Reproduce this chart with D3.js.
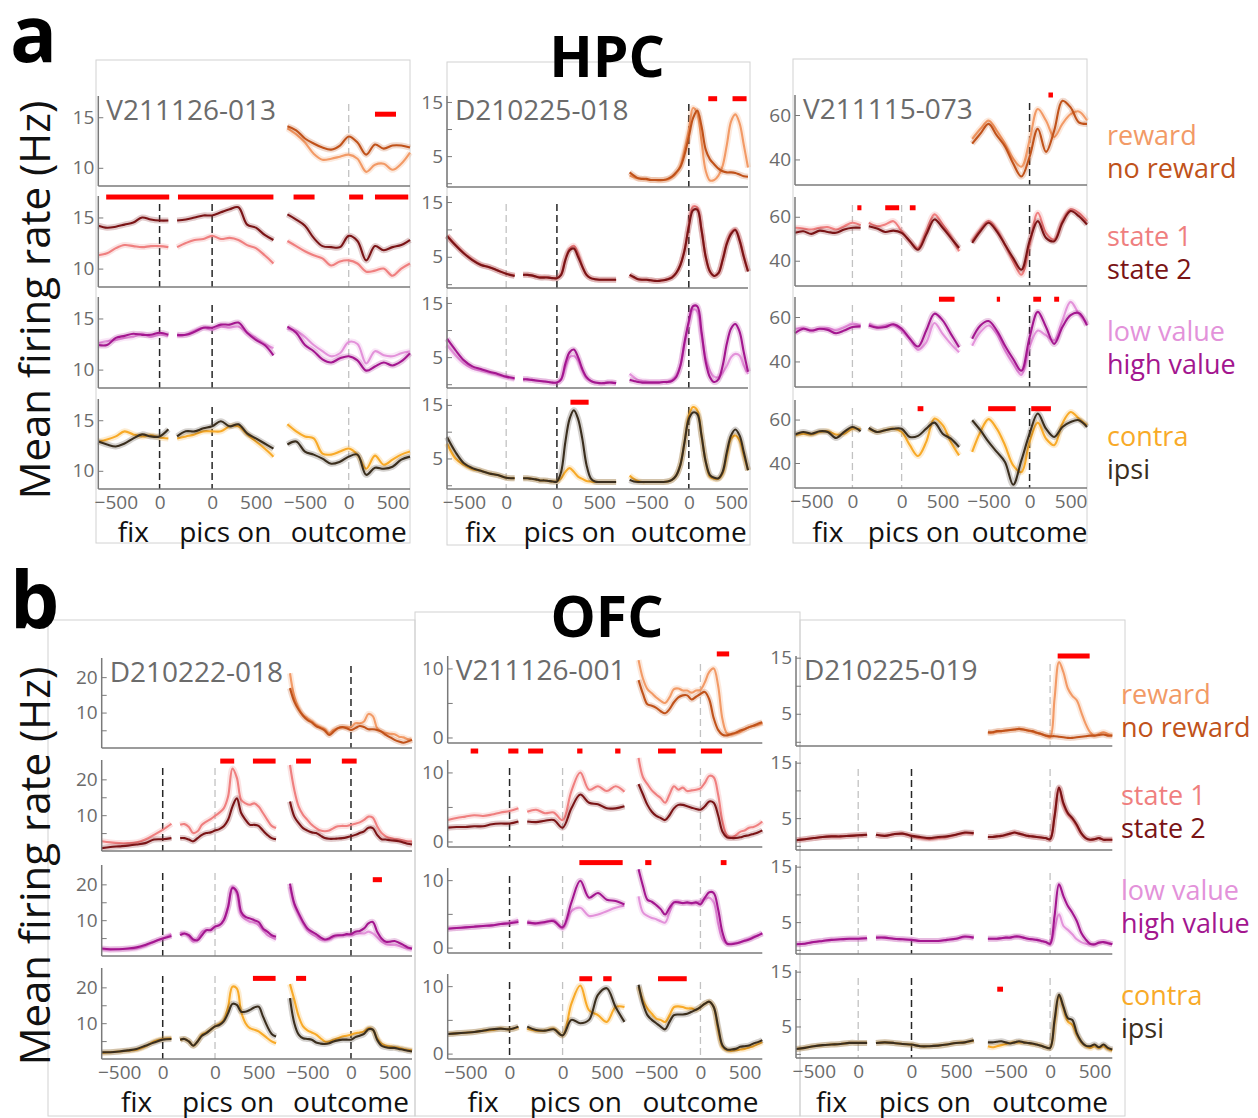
<!DOCTYPE html>
<html lang="en">
<head>
<meta charset="UTF-8">
<title>HPC / OFC example neurons</title>
<script src="https://d3js.org/d3.v7.min.js"></script>
<style>
  body { margin: 0; background: #fff; }
  text { font-family: "Open Sans", sans-serif; }
</style>
</head>
<body>
<svg id="fig" width="1258" height="1118"></svg>
<script>
// ---- epochs (ms) and how they are joined on one x axis
const epochs = ["fix", "pics", "out"];
const epochNames = ["fix", "pics on", "outcome"];
const epochSpan = {fix: [-700, 100], pics: [-400, 700], out: [-700, 700]};
const epochStart = {fix: 0, pics: 900, out: 2160};
const joinedLength = 3560;
const xTickVals = {fix: [-500, 0], pics: [0, 500], out: [-500, 0, 500]};

const condLabels = [["reward", "no reward"], ["state 1", "state 2"], ["low value", "high value"], ["contra", "ipsi"]];
const condColors = [["#f29a66", "#c0521a"], ["#ef7f7f", "#7a1416"], ["#e392da", "#a3168f"], ["#f8aa28", "#3a2e1e"]];

// ---- HPC V211126-013 (100 ms samples)
const h1_rew = [13.9,13.3,12.5,11.4,10.8,10.9,11.1,11.3,10.9,9.6,10.3,10.4,9.8,10.4,11.5];
const h1_norew = [14.1,13.7,12.9,12.4,12.0,11.8,12.2,13.1,12.5,11.3,12.3,11.9,12.2,12.2,12.0];
const h1_st1 = [[11.3,11.5,12.0,12.3,12.2,12.1,12.2,12.2,12.1],
  [12.1,12.5,12.8,12.9,13.2,12.9,13.0,12.8,12.3,12.0,11.3,10.5],
  [12.7,12.2,11.7,11.3,11.0,10.3,10.7,10.8,10.5,9.7,9.8,10.0,9.3,10.0,10.5]];
const h1_st2 = [[14.2,14.0,14.1,14.3,14.5,15.0,14.8,14.7,14.7],
  [14.7,14.8,15.0,15.2,15.2,15.5,15.8,16.0,14.3,14.0,13.3,12.8],
  [15.3,14.8,14.2,13.0,12.2,12.1,12.1,13.2,12.7,10.8,12.2,11.8,12.1,12.3,12.8]];
const h1_low = [[12.6,12.8,12.9,13.1,13.2,13.5,13.2,13.4,13.3],
  [13.3,13.4,13.8,14.1,13.9,14.2,14.1,14.2,13.6,13.1,12.5,12.1],
  [14.0,13.8,13.2,12.4,11.8,11.3,11.6,12.7,12.5,10.6,11.8,11.4,11.3,11.6,11.8]];
const h1_high = [[12.4,12.4,13.1,13.3,13.5,13.4,13.4,13.6,13.4],
  [13.4,13.4,13.7,14.1,14.1,14.4,14.4,14.6,13.6,12.9,12.4,11.4],
  [14.2,13.6,12.4,11.8,11.0,10.7,11.1,11.3,10.9,9.9,10.3,10.7,10.4,10.8,11.6]];
const h1_contra = [[12.9,13.1,13.4,13.9,13.6,13.4,13.5,13.3,13.2],
  [13.2,13.4,13.6,13.9,13.9,13.9,14.4,14.4,13.6,12.9,12.2,11.4],
  [14.6,13.9,13.4,13.2,11.7,11.6,11.9,12.2,11.6,10.2,11.5,10.6,11.1,11.6,11.9]];
const h1_ipsi = [[12.9,12.6,12.4,12.7,13.2,13.6,13.4,13.4,14.1],
  [13.4,13.9,13.9,14.2,14.4,14.9,14.4,14.6,13.7,13.2,12.7,12.2],
  [12.6,12.9,11.9,11.6,11.2,10.7,10.9,11.4,11.6,9.6,10.3,10.2,10.4,11.1,11.4]];
const h1_sig = [[0,"out",300,540,15.3],[1,"fix",-610,110,17.0],[1,"pics",-390,700,17.0],
  [1,"out",-630,-390,17.0],[1,"out",5,165,17.0],[1,"out",300,680,17.0]];
const h1_dark = [[0,0,0],[1,1,0],[1,1,0],[1,1,0]];

// ---- HPC D210225-018 (fix 100 ms, pics/outcome 50 ms)
const h2_rew = [1.4,1.1,0.9,0.8,0.7,0.6,0.6,0.5,0.6,0.7,1.1,1.8,3.2,6.2,9.8,13.9,12.9,7.7,2.3,0.5,0.6,1.4,3.2,7.1,11.4,12.7,11.1,7.1,2.9];
const h2_norew = [2.0,1.4,0.9,0.8,0.8,0.6,0.6,0.6,0.6,0.8,1.2,2.0,3.0,5.3,8.6,12.0,13.4,10.5,6.2,4.4,3.5,2.7,2.2,2.0,2.0,1.9,1.6,1.3,1.2];
const h2_st1 = [[8.9,7.2,5.7,4.5,3.6,3.1,2.5,1.9,1.6],
  [1.7,1.7,1.6,1.4,1.3,1.3,1.2,1.1,1.1,1.8,4.6,6.5,7.0,5.6,3.3,1.7,1.1,0.9,0.8,0.8,0.8,0.8,0.8],
  [1.7,1.2,0.9,0.8,0.8,0.7,0.6,0.6,0.7,0.9,1.3,2.0,3.5,6.3,10.8,14.2,14.0,10.0,5.0,2.3,1.5,2.0,4.5,7.6,9.4,10.0,8.2,5.1,2.4]];
const h2_st2 = [[8.8,7.1,5.6,4.4,3.5,3.1,2.5,1.9,1.5],
  [1.7,1.7,1.6,1.4,1.2,1.2,1.2,1.1,1.1,1.7,4.4,6.2,6.5,5.0,3.2,1.7,1.1,0.9,0.8,0.8,0.8,0.8,0.8],
  [1.7,1.3,0.9,0.8,0.8,0.7,0.6,0.6,0.7,0.9,1.2,2.0,3.5,6.2,10.5,13.5,13.6,9.9,5.0,2.3,1.5,2.0,4.4,7.4,9.2,9.9,8.0,5.0,2.3]];
const h2_low = [[7.2,5.3,3.8,2.9,2.5,2.1,1.7,1.3,0.9],
  [0.9,0.9,0.8,0.7,0.6,0.5,0.4,0.3,0.3,0.9,3.1,5.0,5.2,4.4,2.5,1.1,0.6,0.3,0.2,0.2,0.3,0.3,0.2],
  [1.9,1.3,0.8,0.6,0.5,0.4,0.4,0.4,0.4,0.5,0.8,1.6,3.4,7.5,11.3,13.8,13.4,9.1,4.7,2.5,1.4,1.3,2.1,3.4,5.0,5.6,5.3,3.4,1.9]];
const h2_high = [[8.4,6.3,4.4,3.3,2.8,2.3,1.9,1.4,1.1],
  [0.9,0.9,0.8,0.7,0.6,0.5,0.4,0.3,0.3,0.9,3.8,5.9,6.4,5.0,2.8,1.3,0.6,0.3,0.2,0.2,0.3,0.3,0.2],
  [0.8,0.6,0.4,0.3,0.3,0.3,0.3,0.3,0.4,0.4,0.6,1.3,3.4,7.8,11.6,14.4,14.4,9.7,4.1,1.3,0.4,0.9,3.4,7.5,10.3,11.1,9.7,5.9,2.3]];
const h2_contra = [[7.8,5.0,3.8,3.0,2.7,2.2,1.9,1.4,1.3],
  [1.3,1.3,1.2,1.1,0.9,0.9,0.8,0.7,0.7,1.3,2.5,3.2,2.5,1.6,1.2,0.8,0.7,0.6,0.6,0.6,0.6,0.6,0.6],
  [1.8,1.2,0.8,0.6,0.6,0.6,0.6,0.6,0.6,0.7,1.0,1.8,3.8,8.1,13.0,14.6,14.0,9.3,4.4,1.6,1.2,1.2,2.2,5.6,8.7,9.3,8.4,5.6,2.8]];
const h2_ipsi = [[9.0,6.2,4.1,3.2,2.7,2.2,1.9,1.4,1.3],
  [1.3,1.3,1.2,1.1,0.9,0.9,0.8,0.7,0.7,2.5,8.1,12.4,14.0,12.4,8.7,3.8,1.3,0.7,0.6,0.6,0.6,0.6,0.6],
  [1.0,0.7,0.6,0.6,0.6,0.6,0.6,0.6,0.6,0.7,1.0,1.8,3.8,8.1,12.4,13.6,13.3,9.3,4.4,1.9,1.4,1.3,2.5,6.2,9.3,10.4,9.3,6.2,2.8]];
const h2_sig = [[0,"out",230,335,15.6],[0,"out",517,683,15.6],[3,"pics",160,375,15.5]];
const h2_dark = [[0,0,1],[0,1,1],[0,1,1],[0,1,1]];

// ---- HPC V211115-073 (100 ms samples)
const h3_rew = [49.3,53.8,57.5,53.0,47.1,40.4,36.7,48.6,62.7,57.5,50.1,56.0,60.4,61.6,57.5];
const h3_norew = [47.1,51.6,56.0,50.8,45.9,38.2,32.3,41.2,53.8,43.4,53.0,66.4,63.4,56.7,56.0];
const h3_st1 = [[55.0,54.7,54.2,55.0,55.3,54.2,55.7,57.3,56.2],
  [57.3,55.7,56.5,58.0,53.4,48.9,45.8,53.4,61.1,56.5,51.1,44.3],
  [48.9,54.2,58.0,54.2,47.3,39.7,33.6,47.3,61.8,52.7,49.6,58.0,63.4,61.8,58.0]];
const h3_st2 = [[52.7,53.4,52.2,53.7,53.1,52.7,54.2,55.0,55.0],
  [55.7,54.7,53.1,53.7,52.7,48.9,45.0,51.9,58.8,55.0,50.4,45.8],
  [48.1,53.4,57.3,53.4,47.3,41.2,35.9,48.9,58.0,50.4,48.9,57.3,62.6,60.3,56.5]];
const h3_low = [[54.7,55.0,53.9,54.7,55.0,54.2,55.5,57.0,56.2],
  [57.0,55.5,56.2,56.2,53.9,50.2,45.2,48.6,57.3,52.4,47.9,44.1],
  [47.1,53.2,56.2,52.4,44.8,38.8,33.9,46.4,53.9,51.7,49.4,58.5,66.8,61.5,57.0]];
const h3_high = [[52.7,54.7,53.9,54.7,54.2,52.7,53.9,55.5,55.8],
  [56.2,55.2,55.5,56.7,54.7,50.2,46.7,53.9,61.5,58.5,52.4,46.4],
  [50.2,56.2,58.2,53.9,47.1,41.1,35.8,50.9,62.3,55.5,47.9,55.5,60.8,61.8,56.2]];
const h3_contra = [[52.8,53.5,53.1,54.3,54.6,53.1,53.5,55.8,55.5],
  [55.8,54.3,55.1,55.8,54.3,48.2,43.2,49.7,60.5,57.4,49.7,43.5],
  [45.1,54.3,60.2,55.8,48.2,38.9,35.8,49.7,58.6,51.2,48.2,58.2,63.5,60.5,57.4]];
const h3_ipsi = [[53.1,54.3,53.5,54.6,54.3,51.5,54.3,56.6,54.6],
  [56.2,54.3,55.1,55.8,55.8,52.0,52.5,55.8,58.6,53.5,51.2,47.4],
  [59.7,55.1,49.7,45.1,40.5,30.0,41.2,53.5,62.8,55.8,52.0,56.6,58.9,59.7,56.6]];
const h3_sig = [[0,"out",230,285,69.0],[1,"fix",60,110,64.1],[1,"pics",-200,-30,64.1],[1,"pics",100,170,64.1],
  [2,"pics",455,645,68.0],[2,"out",-400,-360,68.0],[2,"out",45,140,68.0],[2,"out",300,360,68.0],
  [3,"pics",195,265,65.0],[3,"out",-505,-170,65.0],[3,"out",20,260,65.0]];
const h3_dark = [[0,0,1],[0,0,1],[0,0,1],[0,0,1]];

// ---- OFC D210222-018 (fix 100 ms, pics/outcome 50 ms)
const o1_rew = [21.1,14.5,11.2,9.3,8.4,7.5,6.5,5.9,5.3,4.2,5.1,5.6,5.9,5.9,5.9,7.0,7.0,7.5,9.6,9.0,5.6,4.6,4.2,4.0,3.9,3.2,3.0,2.5,2.3];
const o1_norew = [16.9,13.1,10.8,9.1,7.9,7.2,6.2,5.6,4.9,3.7,4.6,5.6,5.9,5.6,5.1,5.6,6.2,5.9,5.3,5.3,5.1,4.6,3.7,3.0,2.3,1.8,1.5,1.8,2.3];
const o1_st1 = [[2.7,2.4,2.2,2.2,2.4,3.2,4.5,5.9,7.6],
  [7.3,7.5,6.7,5.0,5.5,7.3,8.2,8.9,9.8,10.7,11.9,15.2,23.0,20.5,14.3,13.3,12.9,13.3,12.4,10.6,8.7,7.0,6.4],
  [24.0,17.0,12.4,10.1,8.7,7.3,6.4,5.7,5.5,5.7,6.4,6.9,7.0,7.0,7.3,7.6,8.0,8.7,9.6,9.3,6.9,5.0,4.1,3.6,3.3,3.2,2.9,2.7,2.7]];
const o1_st2 = [[0.8,1.1,1.3,1.5,1.8,2.2,3.2,3.3,3.6],
  [3.6,3.6,3.2,2.7,3.6,4.5,5.0,5.2,5.7,6.1,6.9,8.7,12.4,14.7,10.6,8.7,7.3,7.3,7.0,5.7,4.5,3.6,3.3],
  [13.8,9.6,7.8,6.4,5.7,5.2,5.0,4.3,3.6,3.4,3.4,3.5,3.6,3.8,4.1,4.5,5.0,5.5,6.5,6.4,4.5,3.3,3.2,3.0,2.9,2.7,2.4,2.0,1.8]];
const o1_low = [[1.9,1.7,1.9,1.9,2.1,2.8,4.0,4.9,6.1],
  [6.5,6.3,5.4,4.0,5.0,6.8,7.2,7.4,8.2,8.6,10.0,13.7,19.3,17.4,11.4,10.2,9.5,9.3,8.6,7.2,5.8,5.2,4.6],
  [19.3,14.2,11.4,9.1,7.2,6.1,5.4,4.6,4.4,4.6,5.2,5.6,5.8,5.8,5.8,6.1,6.3,6.3,6.8,6.3,5.2,4.0,3.3,3.1,3.1,2.8,2.4,2.1,1.9]];
const o1_high = [[2.1,1.9,1.9,2.1,2.4,3.1,4.0,4.9,5.6],
  [5.8,6.3,5.8,4.6,4.4,5.8,7.2,7.2,8.2,8.6,10.0,13.7,19.0,18.0,12.3,10.9,10.5,10.0,9.5,7.7,6.8,5.8,5.4],
  [20.2,14.6,11.9,9.5,7.7,6.8,6.1,5.2,4.6,4.9,5.6,5.8,5.8,6.1,6.1,6.8,7.0,7.7,9.1,9.5,6.8,4.9,4.0,4.0,4.2,3.7,3.1,2.4,2.1]];
const o1_contra = [[1.7,1.9,2.1,2.3,2.6,3.5,4.9,5.6,5.8],
  [5.4,5.6,4.9,3.7,4.9,6.8,7.4,8.2,9.1,9.8,10.9,14.6,20.2,19.7,13.2,10.0,8.6,8.2,7.7,6.8,5.8,4.9,4.4],
  [20.9,16.5,11.9,9.1,8.0,7.4,6.8,5.8,4.9,4.9,5.4,5.8,6.3,6.5,6.8,7.2,7.4,7.7,8.6,8.2,5.8,4.3,3.7,3.5,3.3,3.1,2.8,2.6,2.4]];
const o1_ipsi = [[1.9,1.9,2.1,2.4,2.8,3.7,4.6,5.4,5.6],
  [5.4,5.6,4.9,3.7,4.9,6.5,7.2,8.2,9.1,9.5,10.5,12.8,15.4,15.1,13.2,13.2,13.7,14.4,14.6,11.9,9.1,7.0,6.3],
  [17.0,10.0,6.8,5.8,5.6,5.4,4.6,4.3,4.2,4.4,4.9,5.2,5.4,5.4,5.4,6.1,6.5,7.0,8.3,8.2,5.4,3.7,3.3,3.1,3.1,2.8,2.6,2.3,2.1]];
const o1_sig = [[1,"pics",60,220,25.1],[1,"pics",435,695,25.1],[1,"out",-630,-460,25.1],[1,"out",-105,65,25.1],
  [2,"out",250,355,21.3],[3,"pics",435,695,22.5],[3,"out",-630,-515,22.5]];
const o1_dark = [[0,0,1],[1,0,1],[1,0,1],[1,0,1]];

// ---- OFC V211126-001 (fix/pics 100 ms, outcome 50 ms)
const o2_rew = [11.2,8.5,7.0,6.4,5.8,5.3,5.0,5.8,7.0,7.1,6.8,6.8,6.5,6.8,6.9,8.0,9.5,10.0,7.5,2.6,0.6,0.4,0.6,0.8,1.2,1.5,1.7,1.8,2.1];
const o2_norew = [8.3,6.3,4.8,4.6,4.3,3.8,3.5,4.1,5.1,5.8,6.1,6.1,5.5,5.9,6.3,6.6,5.5,2.8,1.1,0.4,0.3,0.5,0.7,1.0,1.2,1.5,1.7,2.0,2.2];
const o2_st1 = [[3.1,3.4,3.6,3.8,3.7,3.9,4.2,4.4,4.8],
  [4.3,4.6,4.1,4.2,3.1,7.3,10.0,7.5,8.0,7.3,8.0,7.2],
  [12.1,9.3,8.3,7.4,6.8,6.3,5.6,6.8,8.0,7.5,7.8,7.3,7.4,7.5,7.7,8.5,9.5,9.3,6.8,2.9,0.9,0.6,0.9,1.4,1.6,2.0,2.1,2.4,2.9]];
const o2_st2 = [[2.0,2.1,2.1,2.2,2.2,2.5,2.6,2.6,2.9],
  [2.9,2.8,3.0,3.1,2.0,4.8,6.8,5.6,5.4,4.8,4.8,5.1],
  [8.3,6.8,5.3,4.3,3.7,3.4,3.1,3.8,4.8,5.3,5.3,5.1,4.9,4.7,4.6,5.1,5.8,5.6,3.8,1.4,0.6,0.5,0.5,0.6,0.8,0.9,1.1,1.3,1.6]];
const o2_low = [[2.8,2.9,3.0,3.1,3.2,3.3,3.5,3.7,4.1],
  [3.9,3.5,3.7,4.1,2.8,5.4,5.9,4.7,4.9,5.4,5.9,6.2],
  [7.6,5.2,4.7,4.4,4.2,3.9,3.7,5.2,6.7,6.8,6.6,6.6,6.5,6.6,6.9,7.2,7.4,6.7,3.5,1.2,0.6,0.6,0.7,0.8,1.1,1.3,1.6,1.8,2.2]];
const o2_high = [[2.8,2.9,3.0,3.1,3.2,3.3,3.5,3.6,3.8],
  [3.7,3.6,3.8,3.9,3.0,6.7,9.9,7.4,8.1,7.1,6.9,6.4],
  [11.6,9.1,7.1,6.8,6.3,5.7,4.9,5.9,6.7,6.7,6.6,6.7,6.6,6.7,6.4,7.4,8.2,8.1,5.7,2.2,0.6,0.5,0.6,0.8,1.0,1.2,1.5,1.8,2.1]];
const o2_contra = [[2.9,3.0,3.1,3.2,3.4,3.5,3.7,3.6,3.9],
  [3.7,3.4,3.4,3.7,2.7,7.4,10.1,6.4,5.7,4.7,6.9,6.9],
  [9.9,7.9,6.7,5.9,5.2,5.0,4.7,5.7,6.9,7.0,6.9,6.7,6.7,6.5,6.9,7.4,7.7,6.9,3.5,1.0,0.5,0.4,0.5,0.6,0.7,0.9,1.1,1.4,1.7]];
const o2_ipsi = [[2.9,3.0,3.1,3.2,3.4,3.6,3.7,3.6,4.0],
  [4.0,3.5,3.4,3.6,2.7,5.0,4.5,5.0,8.7,9.7,6.9,4.7],
  [10.2,7.4,5.7,5.0,4.5,4.0,3.6,4.7,5.7,5.8,5.8,5.9,6.2,6.5,6.9,7.4,7.7,6.9,4.0,1.2,0.6,0.6,0.7,1.0,1.1,1.2,1.5,1.7,2.0]];
const o2_sig = [[0,"out",185,325,12.1],[1,"fix",-440,-355,13.1],[1,"fix",-15,100,13.1],[1,"pics",-390,-220,13.1],
  [1,"pics",165,225,13.1],[1,"pics",595,655,13.1],[1,"out",-480,-280,13.1],[1,"out",5,245,13.1],
  [2,"pics",190,680,12.6],[2,"out",-625,-555,12.6],[2,"out",230,295,12.6],
  [3,"pics",190,335,11.1],[3,"pics",460,555,11.1],[3,"out",-480,-155,11.1]];
const o2_dark = [[0,0,0],[1,0,0],[1,0,0],[1,0,0]];

// ---- OFC D210225-019 (fix/pics 100 ms, outcome 50 ms)
const o3_rew = [1.6,1.6,1.8,1.9,2.0,2.1,2.2,2.3,2.2,2.0,1.8,1.6,1.4,1.1,0.8,7.7,14.2,12.4,9.5,8.2,7.4,5.3,3.2,1.7,1.1,1.4,1.7,1.4,1.1];
const o3_norew = [1.7,1.7,1.9,1.9,2.0,2.1,2.2,2.3,2.2,2.0,1.9,1.6,1.4,1.1,1.0,1.0,0.9,0.8,0.7,0.7,0.8,0.9,1.0,1.1,1.1,1.2,1.3,1.1,1.1];
const o3_st1 = [[1.0,1.2,1.4,1.6,1.7,1.7,1.8,1.9,2.0],
  [2.0,1.8,2.1,2.2,1.8,1.4,1.2,1.4,1.6,2.0,2.3,2.2],
  [1.6,1.6,1.7,1.8,1.9,2.2,2.4,2.2,2.0,1.8,1.7,1.6,1.5,1.4,1.2,5.4,10.4,7.4,5.7,4.8,3.6,2.2,1.4,1.1,1.2,1.4,1.1,1.1,1.1]];
const o3_st2 = [[1.0,1.2,1.4,1.6,1.7,1.7,1.8,1.9,2.0],
  [2.0,1.8,2.1,2.2,1.8,1.6,1.4,1.6,1.7,2.0,2.4,2.3],
  [1.6,1.6,1.7,1.8,2.0,2.2,2.4,2.2,2.0,1.8,1.7,1.6,1.5,1.4,1.2,5.3,10.5,7.7,5.9,5.0,3.8,2.3,1.4,1.1,1.2,1.4,1.1,1.1,1.1]];
const o3_low = [[1.0,1.1,1.4,1.6,1.8,1.9,2.0,2.0,2.1],
  [2.2,2.2,2.0,1.9,1.8,1.6,1.6,1.6,1.8,2.0,2.3,2.2],
  [2.0,2.0,2.0,2.1,2.2,2.2,2.3,2.3,2.2,2.0,1.9,1.8,1.6,1.4,1.0,3.7,6.4,4.3,3.6,2.8,1.9,1.4,1.1,1.0,0.9,1.3,1.4,1.3,1.0]];
const o3_high = [[1.0,1.1,1.4,1.6,1.8,1.9,2.0,2.0,2.1],
  [2.2,2.2,2.0,1.9,1.8,1.6,1.6,1.6,1.8,2.0,2.4,2.2],
  [2.0,2.0,2.0,2.1,2.2,2.2,2.4,2.4,2.2,2.0,1.9,1.8,1.6,1.4,1.1,6.1,11.8,9.7,7.9,6.7,5.2,3.1,1.9,1.1,1.0,1.3,1.4,1.2,1.0]];
const o3_contra = [[0.9,1.1,1.4,1.6,1.7,1.8,2.0,2.0,2.0],
  [2.0,2.1,2.0,1.8,1.7,1.4,1.4,1.5,1.7,2.0,2.1,2.4],
  [1.4,1.2,1.4,1.6,1.8,2.0,2.1,2.1,2.1,2.0,1.8,1.7,1.5,1.2,1.1,5.6,10.5,8.3,5.9,5.3,3.5,2.1,1.4,1.1,1.4,1.1,1.4,0.9,0.6]];
const o3_ipsi = [[0.9,1.1,1.4,1.6,1.7,1.8,2.0,2.0,2.0],
  [2.0,2.1,2.0,1.8,1.7,1.4,1.4,1.5,1.7,2.0,2.1,2.5],
  [2.1,2.1,2.2,2.3,2.1,1.9,2.1,2.3,2.1,2.0,1.9,1.7,1.5,1.2,1.1,6.2,10.8,8.6,6.5,6.2,3.8,2.3,1.5,1.4,1.7,1.2,1.7,1.1,0.8]];
const o3_sig = [[0,"out",85,445,15.3],[3,"out",-595,-530,11.8]];
const o3_dark = [[0,0,0],[0,1,0],[0,1,0],[0,1,0]];

// ---- layout
const sections = [
  {letter: "a", title: "HPC", letterY: 62, titleY: 77, ylabelY: 300, legendX: 1107,
   legendY: [145, 178, 246, 279, 341, 374, 446, 479], epochY: 542},
  {letter: "b", title: "OFC", letterY: 628, titleY: 637, ylabelY: 866, legendX: 1121,
   legendY: [704, 737, 805, 838, 900, 933, 1005, 1038], epochY: 1112}
];

const panels = [
  {sec: 0, id: "V211126-013", x: [98.3, 410], frame: [96, 60, 314, 483],
   rows: [[96, 186], [196, 287], [297, 388], [399, 489]], dom: [8.2, 17.1], ticks: [10, 15], minor: [],
   step: {fix: 100, pics: 100, out: 100},
   data: [[h1_rew, h1_norew], [h1_st1, h1_st2], [h1_low, h1_high], [h1_contra, h1_ipsi]], sig: h1_sig, dark: h1_dark},
  {sec: 0, id: "D210225-018", x: [447, 748], frame: [447, 62, 303, 483],
   rows: [[96, 187], [196, 288], [297, 388], [399, 489]], dom: [-0.7, 16.1], ticks: [5, 15], minor: [0, 10],
   step: {fix: 100, pics: 50, out: 50},
   data: [[h2_rew, h2_norew], [h2_st1, h2_st2], [h2_low, h2_high], [h2_contra, h2_ipsi]], sig: h2_sig, dark: h2_dark},
  {sec: 0, id: "V211115-073", x: [795, 1087], frame: [793, 59, 294, 484],
   rows: [[95, 185], [197, 286], [297, 387], [400, 488]], dom: [28.5, 69], ticks: [40, 60], minor: [],
   step: {fix: 100, pics: 100, out: 100},
   data: [[h3_rew, h3_norew], [h3_st1, h3_st2], [h3_low, h3_high], [h3_contra, h3_ipsi]], sig: h3_sig, dark: h3_dark},
  {sec: 1, id: "D210222-018", x: [101.7, 412], frame: [48, 620, 367, 496],
   rows: [[658, 748], [760, 851], [865, 956], [968, 1059]], dom: [0, 25.4], ticks: [10, 20], minor: [5, 15],
   step: {fix: 100, pics: 50, out: 50},
   data: [[o1_rew, o1_norew], [o1_st1, o1_st2], [o1_low, o1_high], [o1_contra, o1_ipsi]], sig: o1_sig, dark: o1_dark},
  {sec: 1, id: "V211126-001", x: [447.7, 762.3], frame: [415, 612, 385, 504],
   rows: [[656, 743], [760, 847], [868, 953], [974, 1059]], dom: [-0.8, 11.8], ticks: [0, 10], minor: [5],
   step: {fix: 100, pics: 100, out: 50},
   data: [[o2_rew, o2_norew], [o2_st1, o2_st2], [o2_low, o2_high], [o2_contra, o2_ipsi]], sig: o2_sig, dark: o2_dark},
  {sec: 1, id: "D210225-019", x: [796, 1112.3], frame: [800, 620, 325, 496],
   rows: [[656, 746], [761, 850], [865, 954], [970, 1058]], dom: [-0.75, 15.3], ticks: [5, 15], minor: [0, 10],
   step: {fix: 100, pics: 100, out: 50},
   data: [[o3_rew, o3_norew], [o3_st1, o3_st2], [o3_low, o3_high], [o3_contra, o3_ipsi]], sig: o3_sig, dark: o3_dark}
];

const svg = d3.select("#fig");
const line = d3.line().curve(d3.curveCatmullRom.alpha(0.5));

// panel frames
svg.append("g").selectAll("rect").data(panels).join("rect")
  .attr("x", d => d.frame[0]).attr("y", d => d.frame[1])
  .attr("width", d => d.frame[2]).attr("height", d => d.frame[3])
  .attr("fill", "none").attr("stroke", "#d2d2d2").attr("stroke-width", 1);

function styleAxis(a) {
  a.select(".domain").remove();
  a.attr("font-family", "Open Sans, sans-serif").attr("font-size", 19);
  a.selectAll("text").attr("fill", "#6b6b6b");
  a.selectAll("line").attr("stroke", "#7a7a7a");
}

panels.forEach(p => {
  const sec = sections[p.sec];
  const xj = d3.scaleLinear().domain([0, joinedLength]).range(p.x);
  const xs = {};
  epochs.forEach(ep => {
    const [t0, t1] = epochSpan[ep];
    xs[ep] = d3.scaleLinear().domain([t0, t1])
      .range([xj(epochStart[ep]), xj(epochStart[ep] + t1 - t0)]);
  });
  const g = svg.append("g");

  p.rows.forEach(([top, bot], r) => {
    const y = d3.scaleLinear().domain(p.dom).range([bot, top]);
    const eps = r === 0 ? ["out"] : epochs;

    // dashed zero lines
    eps.forEach(ep => {
      const dark = p.dark[r][epochs.indexOf(ep)];
      g.append("line")
        .attr("x1", xs[ep](0)).attr("x2", xs[ep](0))
        .attr("y1", top + 8).attr("y2", bot)
        .attr("stroke", dark ? "#262626" : "#c2c2c2")
        .attr("stroke-width", dark ? 1.5 : 1.3)
        .attr("stroke-dasharray", "7,4");
    });

    // traces, light condition first
    p.data[r].forEach((series, k) => {
      const color = condColors[r][k];
      eps.forEach(ep => {
        const vals = r === 0 ? series : series[epochs.indexOf(ep)];
        const times = d3.range(epochSpan[ep][0], epochSpan[ep][1] + 1, p.step[ep]);
        if (vals.length !== times.length) console.error(p.id, r, k, ep, vals.length, times.length);
        const pts = vals.map((v, i) => [xs[ep](times[i]), y(v)]);
        g.append("path").attr("d", line(pts)).attr("fill", "none")
          .attr("stroke", color).attr("stroke-opacity", 0.22).attr("stroke-width", 6)
          .attr("stroke-linejoin", "round");
        g.append("path").attr("d", line(pts)).attr("fill", "none")
          .attr("stroke", color).attr("stroke-width", 2.1)
          .attr("stroke-linejoin", "round");
      });
    });

    // significance bars
    g.selectAll(null).data(p.sig.filter(s => s[0] === r)).join("rect")
      .attr("x", s => xs[s[1]](s[2]))
      .attr("width", s => xs[s[1]](s[3]) - xs[s[1]](s[2]))
      .attr("y", s => y(s[4]) - 2.5).attr("height", 5)
      .attr("fill", "#ff0000");

    // axes
    g.append("line").attr("x1", p.x[0]).attr("x2", p.x[0]).attr("y1", top).attr("y2", bot)
      .attr("stroke", "#7a7a7a").attr("stroke-width", 1.5);
    g.append("line").attr("x1", p.x[0]).attr("x2", p.x[1]).attr("y1", bot).attr("y2", bot)
      .attr("stroke", "#7a7a7a").attr("stroke-width", 1.5);
    g.append("g").attr("transform", `translate(${p.x[0]},0)`)
      .call(d3.axisLeft(y).tickValues(p.ticks).tickSizeInner(-5).tickSizeOuter(0).tickPadding(4))
      .call(styleAxis);
    if (p.minor.length) {
      g.append("g").attr("transform", `translate(${p.x[0]},0)`)
        .call(d3.axisLeft(y).tickValues(p.minor).tickFormat(() => "").tickSizeInner(-5).tickSizeOuter(0))
        .call(styleAxis);
    }

    if (r === p.rows.length - 1) {
      epochs.forEach((ep, e) => {
        g.append("g").attr("transform", `translate(0,${bot})`)
          .call(d3.axisBottom(xs[ep]).tickValues(xTickVals[ep]).tickSize(0).tickPadding(7))
          .call(styleAxis);
        const [a, b] = xs[ep].range();
        g.append("text").attr("x", (a + b) / 2).attr("y", sec.epochY)
          .attr("text-anchor", "middle").attr("font-size", 28).attr("fill", "#111")
          .text(epochNames[e]);
      });
    }
  });

  g.append("text").attr("x", p.x[0] + 8).attr("y", p.rows[0][0] + 24)
    .attr("font-size", 28).attr("fill", "#6b6b6b").text(p.id);
});

// section texts
sections.forEach(s => {
  svg.append("text").attr("x", 10).attr("y", s.letterY)
    .attr("font-size", 78).attr("font-weight", 700).attr("fill", "#000").text(s.letter);
  svg.append("text").attr("x", 607).attr("y", s.titleY).attr("text-anchor", "middle")
    .attr("font-size", 57).attr("font-weight", 700).attr("fill", "#000").text(s.title);
  svg.append("text").attr("transform", `translate(50,${s.ylabelY}) rotate(-90)`)
    .attr("text-anchor", "middle").attr("font-size", 42).attr("fill", "#111")
    .text("Mean firing rate (Hz)");
  const flat = condLabels.flat(), cols = condColors.flat();
  svg.append("g").selectAll("text").data(flat).join("text")
    .attr("x", s.legendX).attr("y", (d, i) => s.legendY[i])
    .attr("font-size", 27).attr("fill", (d, i) => cols[i]).text(d => d);
});
</script>
</body>
</html>
